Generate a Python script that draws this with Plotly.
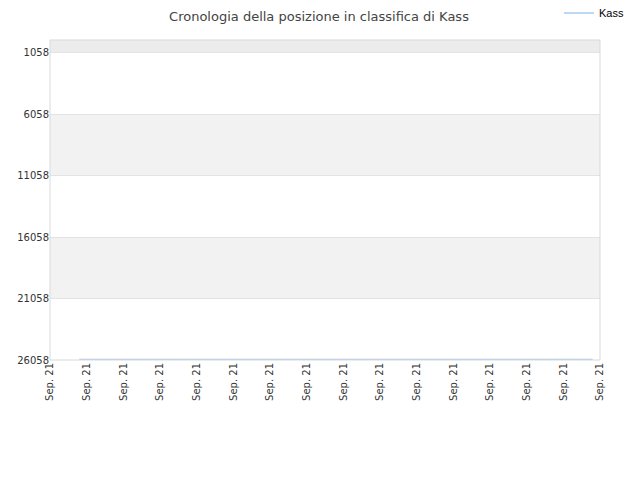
import plotly.graph_objects as go

# classifica di Kass (posizione, asse invertito)
days = [0.8, 2, 3, 4, 5, 6, 7, 8, 9, 10, 11, 12, 13, 14, 14.8]
rank = [26010] * len(days)

tick_pos = list(range(16))
tick_text = ["Sep. 21"] * 16
y_ticks = [1058, 6058, 11058, 16058, 21058, 26058]
y_text = [str(v) for v in y_ticks]

fig = go.Figure()
fig.add_trace(go.Scatter(
    x=days, y=rank, mode="lines", name="Kass",
    line=dict(color="#a8cbef", width=1.5),
))

# fasce alternate di sfondo
bands = [(0, 1058, "#ececec"), (6058, 11058, "#f2f2f2"), (16058, 21058, "#f2f2f2")]
for y0, y1, col in bands:
    fig.add_shape(type="rect", xref="paper", yref="y", x0=0, x1=1, y0=y0, y1=y1,
                  fillcolor=col, line=dict(width=0), layer="below")
fig.add_shape(type="rect", xref="paper", yref="paper", x0=0, x1=1, y0=0, y1=1,
              line=dict(color="#d9d9d9", width=1), layer="above")

fig.update_layout(
    width=640, height=480,
    margin=dict(l=42, r=48, t=32, b=128, autoexpand=False),
    paper_bgcolor="white", plot_bgcolor="white",
    font=dict(family="DejaVu Sans", size=10, color="#333"),
    title=dict(text="Cronologia della posizione in classifica di Kass",
               x=311 / 640, xanchor="center", y=1, yanchor="top",
               pad=dict(t=4, b=0, l=0, r=0),
               font=dict(size=13, color="#444")),
    showlegend=True,
    legend=dict(x=551 / 640, y=1 - 5 / 480, xref="container", yref="container",
                xanchor="left", yanchor="middle",
                font=dict(family="Liberation Sans", size=11, color="#000"),
                bgcolor="rgba(0,0,0,0)", itemwidth=30),
    xaxis=dict(range=[0, 15], tickvals=tick_pos, ticktext=tick_text, tickangle=-90,
               showgrid=False, zeroline=False, tickfont=dict(size=10), ticks="",
               automargin=False),
    yaxis=dict(range=[26058, 0], tickvals=y_ticks, ticktext=y_text, showgrid=True,
               gridcolor="#e3e3e3", zeroline=False, tickfont=dict(size=10), ticks="",
               automargin=False),
)

fig.write_html("out.html")
